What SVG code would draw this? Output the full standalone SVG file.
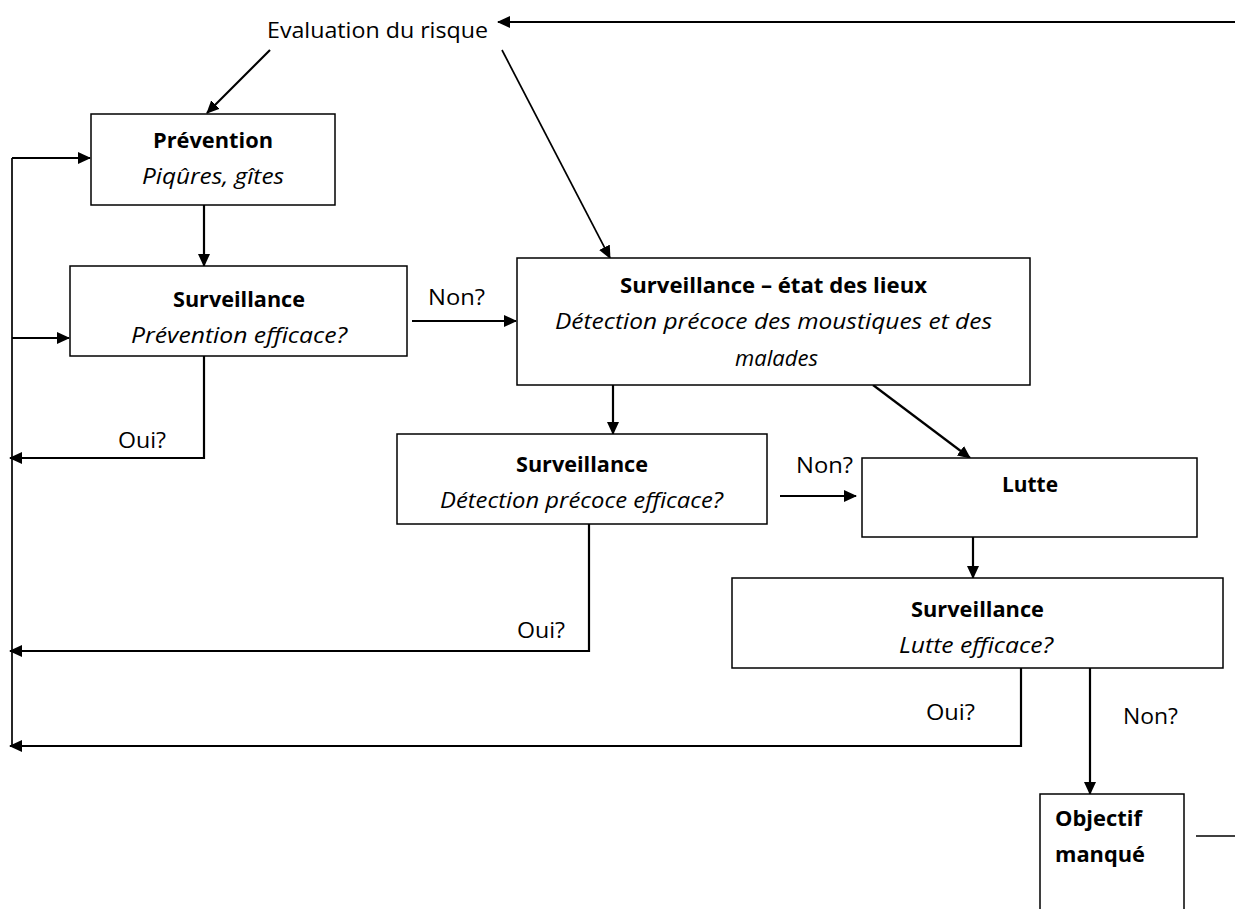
<svg xmlns="http://www.w3.org/2000/svg" width="1235" height="909" viewBox="0 0 1235 909">
<defs>
<marker id="ah" markerWidth="13" markerHeight="13" refX="12" refY="6.5" orient="auto" markerUnits="userSpaceOnUse">
<path d="M0,0.5 L13,6.5 L0,12.5 Z" fill="#000"/>
</marker>
<style>
.box{fill:#fff;stroke:#000;stroke-width:1.5}
.ln{fill:none;stroke:#000;stroke-width:2.2}
.ln1{fill:none;stroke:#000;stroke-width:1.7}
text{font-family:"Open Sans","Liberation Sans",sans-serif;font-size:22px;fill:#000}
.b{font-weight:bold}
.i{font-style:italic}
.c{text-anchor:middle}
</style>
</defs>
<rect width="1235" height="909" fill="#fff"/>
<g id="connectors">
<line class="ln" x1="1235" y1="22" x2="498" y2="22" marker-end="url(#ah)"/>
<line class="ln" x1="270" y1="50" x2="207" y2="113" marker-end="url(#ah)"/>
<line class="ln1" x1="502" y1="50" x2="610" y2="258" marker-end="url(#ah)"/>
<line class="ln" x1="204" y1="198" x2="204" y2="266" marker-end="url(#ah)"/>
<line class="ln1" x1="12" y1="158" x2="12" y2="747"/>
<line class="ln" x1="12" y1="158" x2="90" y2="158" marker-end="url(#ah)"/>
<line class="ln" x1="12" y1="338" x2="69" y2="338" marker-end="url(#ah)"/>
<polyline class="ln" points="204,350 204,458 10,458" marker-end="url(#ah)"/>
<line class="ln" x1="412" y1="321" x2="516" y2="321" marker-end="url(#ah)"/>
<line class="ln" x1="613" y1="385" x2="613" y2="434" marker-end="url(#ah)"/>
<line class="ln" x1="873" y1="385" x2="970" y2="458" marker-end="url(#ah)"/>
<line class="ln" x1="780" y1="496" x2="856" y2="496" marker-end="url(#ah)"/>
<polyline class="ln" points="589,518 589,651 10,651" marker-end="url(#ah)"/>
<line class="ln" x1="973" y1="537" x2="973" y2="578" marker-end="url(#ah)"/>
<polyline class="ln" points="1021,665 1021,746 10,746" marker-end="url(#ah)"/>
<line class="ln" x1="1090" y1="665" x2="1090" y2="794" marker-end="url(#ah)"/>
<line class="ln1" x1="1196" y1="836" x2="1235" y2="836"/>
</g>
<g id="eval">
<text x="377.5" y="38" class="c" textLength="221" lengthAdjust="spacingAndGlyphs">Evaluation du risque</text>
</g>
<g id="prevention">
<rect class="box" x="91" y="114" width="244" height="91"/>
<text x="213" y="148" class="c b" textLength="120" lengthAdjust="spacingAndGlyphs">Prévention</text>
<text x="213" y="184" class="c i" textLength="142" lengthAdjust="spacingAndGlyphs">Piqûres, gîtes</text>
</g>
<g id="surv1">
<rect class="box" x="70" y="266" width="337" height="90"/>
<text x="239" y="307" class="c b" textLength="132" lengthAdjust="spacingAndGlyphs">Surveillance</text>
<text x="239" y="343" class="c i" textLength="216" lengthAdjust="spacingAndGlyphs">Prévention efficace?</text>
</g>
<g id="etat">
<rect class="box" x="517" y="258" width="513" height="127"/>
<text x="773.5" y="293" class="c b" textLength="307" lengthAdjust="spacingAndGlyphs">Surveillance – état des lieux</text>
<text x="773.5" y="329" class="c i" textLength="437" lengthAdjust="spacingAndGlyphs">Détection précoce des moustiques et des</text>
<text x="776.5" y="366" class="c i" textLength="83" lengthAdjust="spacingAndGlyphs">malades</text>
</g>
<g id="surv2">
<rect class="box" x="397" y="434" width="370" height="90"/>
<text x="582" y="472" class="c b" textLength="132" lengthAdjust="spacingAndGlyphs">Surveillance</text>
<text x="581.5" y="508" class="c i" textLength="283" lengthAdjust="spacingAndGlyphs">Détection précoce efficace?</text>
</g>
<g id="lutte">
<rect class="box" x="862" y="458" width="335" height="79"/>
<text x="1030" y="492" class="c b" textLength="56" lengthAdjust="spacingAndGlyphs">Lutte</text>
</g>
<g id="surv3">
<rect class="box" x="732" y="578" width="491" height="90"/>
<text x="977.5" y="617" class="c b" textLength="133" lengthAdjust="spacingAndGlyphs">Surveillance</text>
<text x="976" y="653" class="c i" textLength="154" lengthAdjust="spacingAndGlyphs">Lutte efficace?</text>
</g>
<g id="objectif">
<rect class="box" x="1040" y="794" width="144" height="130"/>
<text x="1055" y="826" class="b" textLength="87" lengthAdjust="spacingAndGlyphs">Objectif</text>
<text x="1055" y="862" class="b" textLength="90" lengthAdjust="spacingAndGlyphs">manqué</text>
</g>
<g id="labels">
<text x="118" y="448" textLength="48" lengthAdjust="spacingAndGlyphs">Oui?</text>
<text x="428" y="305" textLength="57" lengthAdjust="spacingAndGlyphs">Non?</text>
<text x="517" y="638" textLength="48" lengthAdjust="spacingAndGlyphs">Oui?</text>
<text x="796" y="473" textLength="57" lengthAdjust="spacingAndGlyphs">Non?</text>
<text x="926" y="720" textLength="49" lengthAdjust="spacingAndGlyphs">Oui?</text>
<text x="1123" y="724" textLength="55" lengthAdjust="spacingAndGlyphs">Non?</text>
</g>
</svg>
